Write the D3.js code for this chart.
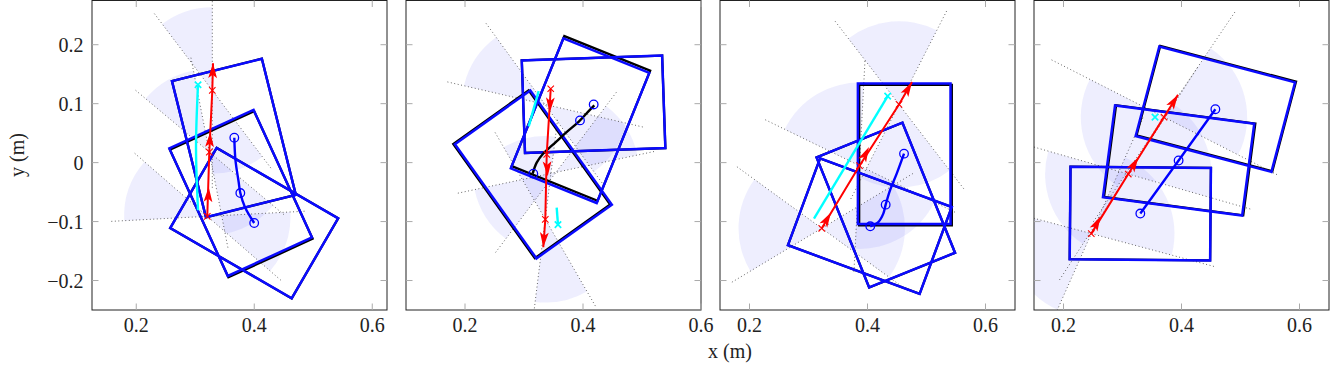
<!DOCTYPE html>
<html>
<head>
<meta charset="utf-8">
<script src="https://cdn.jsdelivr.net/npm/d3@7"></script>
<style>
  body { margin: 0; background: #fff; }
</style>
</head>
<body>
<div id="chart"></div>
<script>
// ---- data (metres / degrees), one inner list per panel ----
const xMins = [0.125, 0.1, 0.15, 0.15];
const yExtent = [-0.25, 0.275];
const xTickVals = [0.2, 0.4, 0.6];
const yTickVals = [-0.2, -0.1, 0, 0.1, 0.2];

const BOX_L = 0.238, BOX_W = 0.157;   // object footprint
const CONE_R = 0.141;                 // friction cone radius
const coneLineLen = [0.165, 0.17, 0.18, 0.215];

// object poses: centre x, centre y, heading (long side)
const boxX = [[0.3655, 0.3770, 0.3999], [0.4179, 0.3950, 0.3159], [0.4622, 0.4310, 0.4040], [0.3302, 0.3951, 0.4574]];
const boxY = [[0.0418, -0.0514, -0.1027], [0.0990, 0.0712, -0.0200], [0.0150, -0.0720, -0.1077], [-0.0864, 0.0036, 0.0906]];
const boxTheta = [[-76, -65.4, -30.1], [2, 68, -54.5], [90, -68, -20.3], [-0.5, -7.5, -14.8]];
// ground-truth outline, shift from the estimate
const truthDx = [[0, 0.0010, 0], [0, 0.0015, -0.0028], [0.0022, 0, 0], [0, 0.0018, 0.0016]];
const truthDy = [[0, -0.0023, 0], [0, 0.0037, 0.0003], [-0.0022, 0, 0], [0, 0.0004, 0.0012]];

// object centre trajectory
const pathX = [
  [0.3662, 0.3682, 0.3736, 0.3764, 0.3843, 0.3999],
  [0.3147, 0.3215, 0.3330, 0.3486, 0.3712, 0.3937, 0.4080, 0.4192],
  [0.4619, 0.4495, 0.4381, 0.4308, 0.4268, 0.4183, 0.4047],
  [0.3302, 0.3951, 0.4574]
];
const pathY = [
  [0.0423, 0.0038, -0.0330, -0.0516, -0.0758, -0.1024],
  [-0.0187, 0.0000, 0.0160, 0.0300, 0.0510, 0.0704, 0.0857, 0.0970],
  [0.0152, -0.0187, -0.0470, -0.0713, -0.0865, -0.1008, -0.1080],
  [-0.0864, 0.0036, 0.0906]
];
const markX = [[0.3662, 0.3764, 0.3999], [0.3158, 0.3949, 0.4181], [0.4619, 0.4308, 0.4047], [0.3302, 0.3951, 0.4574]];
const markY = [[0.0423, -0.0516, -0.1024], [-0.0187, 0.0716, 0.0987], [0.0152, -0.0713, -0.1080], [-0.0864, 0.0036, 0.0906]];

// pusher contacts and push arrows
const pushX = [[0.3204, 0.3238, 0.3289], [0.3453, 0.3385, 0.3361], [0.3224, 0.3864, 0.4534], [0.2471, 0.3098, 0.3703]];
const pushY = [[-0.0911, 0.0179, 0.1225], [0.1253, 0.0140, -0.0962], [-0.1114, -0.0052, 0.0987], [-0.1204, -0.0194, 0.0772]];
const tipX = [[0.3228, 0.3255, 0.3301], [0.3436, 0.3402, 0.3327], [0.3381, 0.4025, 0.4754], [0.2630, 0.3268, 0.3941]];
const tipY = [[-0.0414, 0.0518, 0.1687], [0.0852, -0.0233, -0.1436], [-0.0848, 0.0264, 0.1369], [-0.0911, 0.0089, 0.1152]];

// planned pusher path (segments), marker on the last point
const cyanX = [[[0.3047, 0.3013, 0.3047]], [[0.3249, 0.3080], [0.3554, 0.3576]], [[0.3093, 0.4342]], [[0.3551]]];
const cyanY = [[[-0.0809, 0.0259, 0.1321]], [[0.1213, 0.0614], [-0.0764, -0.1052]], [[-0.0950, 0.1128]], [[0.0772]]];

// friction cones: apex and edge angles
const coneX = [[0.3204, 0.3238, 0.3289], [0.3356, 0.3542, 0.3361], [0.3224, 0.3864, 0.4534], [0.2471, 0.3098, 0.3703]];
const coneY = [[-0.0911, 0.0179, 0.1225], [0.0987, -0.0165, -0.0962], [-0.1114, -0.0052, 0.0987], [-0.1204, -0.0194, 0.0772]];
const coneA1 = [[139, 101, 90], [126, 12, -97], [144, 87, 63], [165, 164, 153]];
const coneA2 = [[183, 140, 127], [167, 53, -60], [211, 154, 127.5], [246, 237, 236]];

// ---- layout ----
const panelLeft = [92, 406, 720, 1034];
const pw = 295, ph = 309.5, plotTop = 0.5;
const pathColor = ["blue", "black", "blue", "blue"];
const FONT = "'Liberation Serif', 'DejaVu Serif', serif";
const rad = d => d * Math.PI / 180;
const minus = s => s.replace("-", "\u2212");

const svg = d3.select("#chart").append("svg")
    .attr("width", 1330)
    .attr("height", 374);

function corners(cx, cy, th) {
  const c = Math.cos(rad(th)), s = Math.sin(rad(th));
  const hl = BOX_L / 2, hw = BOX_W / 2;
  return [[hl, hw], [-hl, hw], [-hl, -hw], [hl, -hw]]
    .map(([a, b]) => [cx + a * c - b * s, cy + a * s + b * c]);
}

panelLeft.forEach((left, p) => {
  const x = d3.scaleLinear().domain([xMins[p], xMins[p] + 0.5]).range([0, pw]);
  const y = d3.scaleLinear().domain(yExtent).range([ph, 0]);
  const g = svg.append("g").attr("transform", "translate(" + left + "," + plotTop + ")");

  g.append("clipPath").attr("id", "clip" + p)
    .append("rect").attr("width", pw).attr("height", ph);
  const body = g.append("g").attr("clip-path", "url(#clip" + p + ")");

  // cones (double lobes)
  const rPx = x(CONE_R) - x(0);
  const arc = d3.arc().innerRadius(0).outerRadius(rPx);
  coneX[p].forEach((cx, i) => {
    [0, 180].forEach(off => {
      body.append("path")
        .attr("d", arc({ startAngle: rad(90 - coneA2[p][i] - off), endAngle: rad(90 - coneA1[p][i] - off) }))
        .attr("transform", "translate(" + x(cx) + "," + y(coneY[p][i]) + ")")
        .attr("fill", "rgb(30,30,235)")
        .attr("fill-opacity", 0.075);
    });
  });
  coneX[p].forEach((cx, i) => {
    [coneA1[p][i], coneA2[p][i]].forEach(a => {
      const L = coneLineLen[p], dx = L * Math.cos(rad(a)), dy = L * Math.sin(rad(a));
      body.append("line")
        .attr("x1", x(cx - dx)).attr("y1", y(coneY[p][i] - dy))
        .attr("x2", x(cx + dx)).attr("y2", y(coneY[p][i] + dy))
        .attr("stroke", "#444")
        .attr("stroke-width", 0.9)
        .attr("stroke-dasharray", "0.9,2.6");
    });
  });

  // boxes: truth (black) below, estimate (blue) on top
  const poly = pts => "M" + pts.map(q => x(q[0]) + "," + y(q[1])).join("L") + "Z";
  boxX[p].forEach((bx, i) => {
    body.append("path")
      .attr("d", poly(corners(bx + truthDx[p][i], boxY[p][i] + truthDy[p][i], boxTheta[p][i])))
      .attr("fill", "none").attr("stroke", "black").attr("stroke-width", 2.3);
  });
  boxX[p].forEach((bx, i) => {
    body.append("path")
      .attr("d", poly(corners(bx, boxY[p][i], boxTheta[p][i])))
      .attr("fill", "none").attr("stroke", "#0a0aff").attr("stroke-width", 2.5);
  });

  // centre trajectory
  const line = d3.line().x(d => x(d[0])).y(d => y(d[1])).curve(d3.curveCatmullRom);
  body.append("path")
    .attr("d", line(pathX[p].map((v, i) => [v, pathY[p][i]])))
    .attr("fill", "none").attr("stroke", pathColor[p]).attr("stroke-width", 2.4);
  markX[p].forEach((mx, i) => {
    body.append("circle")
      .attr("cx", x(mx)).attr("cy", y(markY[p][i])).attr("r", 4.3)
      .attr("fill", "none").attr("stroke", "blue").attr("stroke-width", 1.3);
  });

  // cyan planned path
  const cross = (cx, cy, s, col, w) => {
    body.append("path")
      .attr("d", `M${cx - s},${cy - s}L${cx + s},${cy + s}M${cx - s},${cy + s}L${cx + s},${cy - s}`)
      .attr("stroke", col).attr("stroke-width", w);
  };
  cyanX[p].forEach((seg, s) => {
    if (seg.length > 1) {
      body.append("path")
        .attr("d", line(seg.map((v, i) => [v, cyanY[p][s][i]])))
        .attr("fill", "none").attr("stroke", "cyan").attr("stroke-width", 2.4);
    }
  });
  const lastSeg = cyanX[p].length - 1, lastPt = cyanX[p][lastSeg].length - 1;
  cross(x(cyanX[p][lastSeg][lastPt]), y(cyanY[p][lastSeg][lastPt]), 3.2, "cyan", 1.7);

  // red pusher path with arrows
  const red = pushX[p].map((v, i) => [v, pushY[p][i]]).concat([[tipX[p][2], tipY[p][2]]]);
  body.append("path")
    .attr("d", d3.line().x(d => x(d[0])).y(d => y(d[1]))(red))
    .attr("fill", "none").attr("stroke", "red").attr("stroke-width", 2);
  pushX[p].forEach((px, i) => {
    const bx = x(px), by = y(pushY[p][i]), tx = x(tipX[p][i]), ty = y(tipY[p][i]);
    const len = Math.hypot(tx - bx, ty - by), ux = (tx - bx) / len, uy = (ty - by) / len;
    const hl = 15, hw = 4.4, nx = -uy, ny = ux;
    const bkx = tx - hl * ux, bky = ty - hl * uy;
    body.append("path")
      .attr("d", `M${tx},${ty}L${bkx + hw * nx},${bky + hw * ny}L${tx - (hl - 3.5) * ux},${ty - (hl - 3.5) * uy}L${bkx - hw * nx},${bky - hw * ny}Z`)
      .attr("fill", "red");
    cross(bx, by, 3.2, "red", 1.1);
  });

  // frame and ticks
  g.append("rect").attr("width", pw).attr("height", ph)
    .attr("fill", "none").attr("stroke", "#222").attr("stroke-width", 1);
  xTickVals.forEach(t => {
    const tx = x(t);
    g.append("path").attr("d", `M${tx},${ph}v-6.5M${tx},0v6.5`).attr("stroke", "#aaa").attr("stroke-width", 1);
    g.append("text").attr("x", tx).attr("y", 331.5).attr("text-anchor", "middle")
      .attr("font-family", FONT).attr("font-size", 20).attr("fill", "#222")
      .text(minus(d3.format(".1f")(t)));
  });
  yTickVals.forEach(t => {
    const ty = y(t);
    g.append("path").attr("d", `M0,${ty}h6.5M${pw},${ty}h-6.5`).attr("stroke", "#aaa").attr("stroke-width", 1);
    if (p === 0) {
      g.append("text").attr("x", -8.5).attr("y", ty + 7).attr("text-anchor", "end")
        .attr("font-family", FONT).attr("font-size", 20).attr("fill", "#222")
        .text(t === 0 ? "0" : minus(d3.format(".1f")(t)));
    }
  });
});

// axis labels
svg.append("text")
  .attr("x", 730).attr("y", 358).attr("text-anchor", "middle")
  .attr("font-family", FONT).attr("font-size", 20).attr("fill", "#222")
  .text("x (m)");
svg.append("text")
  .attr("transform", "translate(24,155) rotate(-90)")
  .attr("text-anchor", "middle")
  .attr("font-family", FONT).attr("font-size", 20).attr("fill", "#222")
  .text("y (m)");
</script>
</body>
</html>
